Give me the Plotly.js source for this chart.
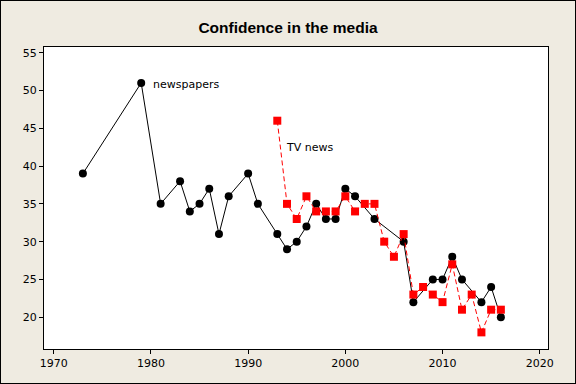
<!DOCTYPE html>
<html>
<head>
<meta charset="utf-8">
<script src="https://cdn.plot.ly/plotly-3.0.1.min.js"></script>
<style>
html,body{margin:0;padding:0;background:#EFEBE1;}
#chart{width:576px;height:384px;box-sizing:border-box;border:1px solid #000;}
</style>
</head>
<body>
<div id="chart"></div>
<script>
const newsYears = [1973,1979,1981,1983,1984,1985,1986,1987,1988,1990,1991,1993,1994,1995,1996,1997,1998,1999,2000,2001,2003,2006,2007,2009,2010,2011,2012,2014,2015,2016];
const newsValues = [39,51,35,38,34,35,37,31,36,39,35,31,29,30,32,35,33,33,37,36,33,30,22,25,25,28,25,22,24,20];
const tvYears = [1993,1994,1995,1996,1997,1998,1999,2000,2001,2002,2003,2004,2005,2006,2007,2008,2009,2010,2011,2012,2013,2014,2015,2016];
const tvValues = [46,35,33,36,34,34,34,36,34,35,35,30,28,31,23,24,23,22,27,21,23,18,21,21];
const xTicks = [1970,1980,1990,2000,2010,2020];
const yTicks = [20,25,30,35,40,45,50,55];

const traces = [
  {x: newsYears, y: newsValues, type:'scatter', mode:'lines+markers', name:'newspapers',
   line:{color:'#000', width:1}, marker:{symbol:'circle', size:8, color:'#000'}},
  {x: tvYears, y: tvValues, type:'scatter', mode:'lines+markers', name:'TV news',
   line:{color:'#FF0000', width:1, dash:'5px,3px'}, marker:{symbol:'square', size:8, color:'#FF0000'}}
];

const layout = {
  width:574, height:382,
  paper_bgcolor:'#EFEBE1', plot_bgcolor:'#FFFFFF',
  margin:{l:43, r:27, t:46, b:34},
  showlegend:false,
  font:{family:'DejaVu Sans, sans-serif', size:11, color:'#000'},
  title:{text:'<b>Confidence in the media</b>', x:0.5, xanchor:'center', y:0.93, yanchor:'middle',
         font:{family:'Liberation Sans, Arial, sans-serif', size:15.5, color:'#000'}},
  xaxis:{range:[1969.0, 2020.85], tickvals:xTicks, ticks:'outside', ticklen:4, tickcolor:'#000',
         showline:true, linecolor:'#000', linewidth:1, mirror:true, showgrid:false, zeroline:false,
         tickfont:{size:11}},
  yaxis:{range:[15.8, 55.75], tickvals:yTicks, ticks:'outside', ticklen:4, tickcolor:'#000',
         showline:true, linecolor:'#000', linewidth:1, mirror:true, showgrid:false, zeroline:false,
         tickfont:{size:11}},
  annotations:[
    {x:1980.0, y:50.75, text:'newspapers', showarrow:false, xanchor:'left', yanchor:'middle',
     font:{family:'DejaVu Sans, sans-serif', size:11, color:'#000'}},
    {x:1993.65, y:42.45, text:'TV news', showarrow:false, xanchor:'left', yanchor:'middle',
     font:{family:'DejaVu Sans, sans-serif', size:11, color:'#000'}}
  ]
};

Plotly.newPlot('chart', traces, layout, {displayModeBar:false, staticPlot:true});
</script>
</body>
</html>
